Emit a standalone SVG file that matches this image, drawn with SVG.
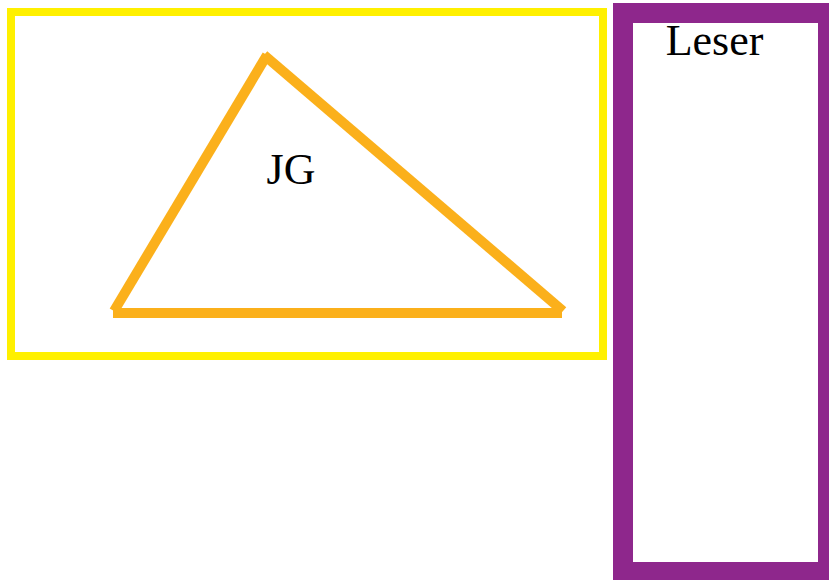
<svg xmlns="http://www.w3.org/2000/svg" width="829" height="580" viewBox="0 0 829 580">
<style>
.lbl{font-family:"Liberation Serif","Times New Roman",serif;font-size:44px;fill:#000;text-anchor:middle}
.tri{stroke:#FBB01B;stroke-width:10;fill:none;stroke-linecap:butt}
</style>
<rect width="829" height="580" fill="#fff"/>
<g id="frame">
<rect x="11" y="12" width="592" height="344" fill="none" stroke="#FFF000" stroke-width="8"/>
</g>
<g id="JG">
<line class="tri" x1="114" y1="311" x2="267" y2="55"/>
<line class="tri" x1="264" y1="55" x2="563" y2="311"/>
<line class="tri" x1="113" y1="313" x2="562" y2="313"/>
<text class="lbl" x="291" y="184">JG</text>
</g>
<g id="Leser">
<rect x="623" y="13" width="205" height="559" fill="none" stroke="#8E278C" stroke-width="20"/>
<text class="lbl" x="714.5" y="55">Leser</text>
</g>
<g id="connectors"></g>
</svg>
